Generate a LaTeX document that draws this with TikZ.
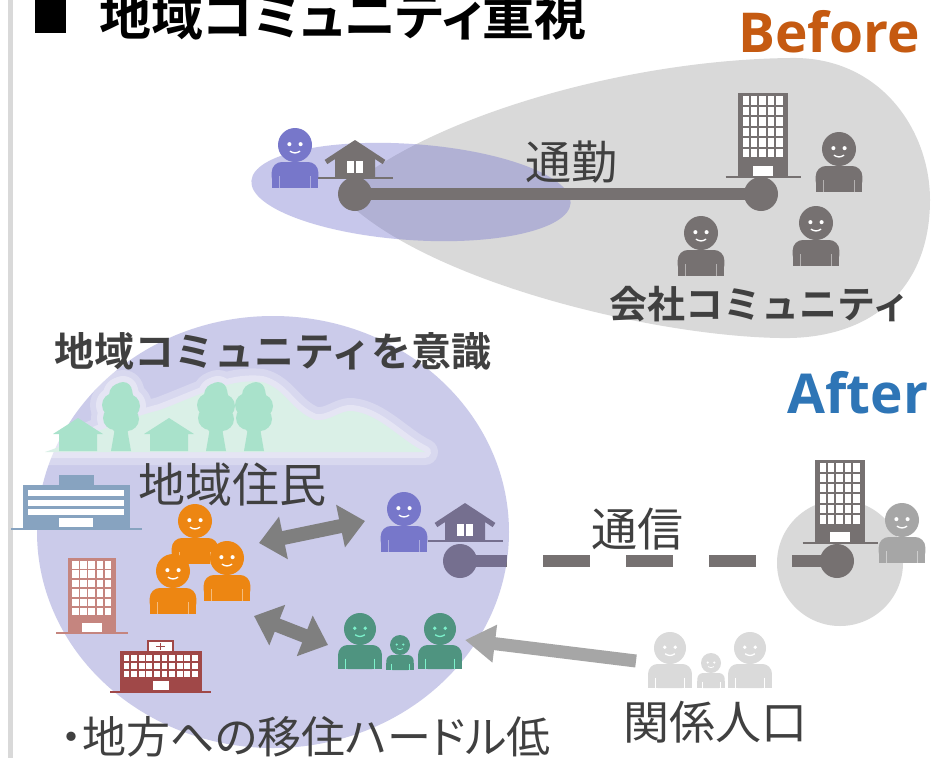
\documentclass[tikz,border=0pt]{standalone}
\usepackage{fontspec}
\usetikzlibrary{arrows.meta}
\newfontfamily\jp[BoldFont={Noto Sans CJK JP Bold}]{Noto Sans CJK JP}
\newfontfamily\jpp[BoldFont={Noto Sans CJK JP Bold},RawFeature=+palt]{Noto Sans CJK JP}
\newfontfamily\en{Open Sans}

\definecolor{inkgray}{HTML}{404040}
\definecolor{hubgray}{HTML}{767171}
\definecolor{hubviolet}{HTML}{756F8F}
\definecolor{blobgray}{HTML}{D9D9D9}
\definecolor{lavender}{HTML}{CBCBEA}
\definecolor{lavdeep}{HTML}{7575CD}
\definecolor{violet}{HTML}{7777CA}
\definecolor{orangeppl}{HTML}{ED8612}
\definecolor{greenppl}{HTML}{4F9480}
\definecolor{mint}{HTML}{7DF2CC}
\definecolor{kingray}{HTML}{DADADA}
\definecolor{arrowgray}{HTML}{7F7F7F}
\definecolor{linkgray}{HTML}{A6A6A6}
\definecolor{hillmint}{HTML}{DAF0E7}
\definecolor{treemint}{HTML}{A9E2CB}
\definecolor{officeblue}{HTML}{87A3C0}
\definecolor{towerpink}{HTML}{C5857F}
\definecolor{clinicred}{HTML}{A04848}
\definecolor{beforeorange}{HTML}{C55A11}
\definecolor{afterblue}{HTML}{2E75B6}

% person icon: head x, head y, head radius, body, face, arm lines
\newcommand{\resident}[6]{%
  \fill[#4] (#1,#2) circle ({#3*1pt});
  \fill[#4,rounded corners={0.6*#3pt}] ({#1-1.37*#3},{#2+#3}) rectangle ({#1+1.37*#3},{#2+2.5*#3});
  \fill[#4] ({#1-1.37*#3},{#2+1.8*#3}) rectangle ({#1+1.37*#3},{#2+2.5*#3});
  \fill[#5] ({#1-0.33*#3},{#2-0.05*#3}) circle ({0.12*#3*1pt});
  \fill[#5] ({#1+0.33*#3},{#2-0.05*#3}) circle ({0.12*#3*1pt});
  \draw[#5,line width={0.08*#3*1pt}] ({#1-0.3*#3},{#2+0.36*#3}) .. controls ({#1-0.1*#3},{#2+0.5*#3}) and ({#1+0.1*#3},{#2+0.5*#3}) .. ({#1+0.3*#3},{#2+0.36*#3});
  \draw[#6,line width=0.8pt] ({#1-0.9*#3},{#2+1.85*#3}) -- ({#1-0.9*#3},{#2+2.5*#3});
  \draw[#6,line width=0.8pt] ({#1+0.9*#3},{#2+1.85*#3}) -- ({#1+0.9*#3},{#2+2.5*#3});
}
% small house: roof peak x, y, colour
\newcommand{\home}[3]{%
  \fill[#3] ({#1-20},{#2+38}) -- ({#1-20},{#2+16}) -- (#1,{#2+3}) -- ({#1+20},{#2+16}) -- ({#1+20},{#2+38}) -- cycle;
  \draw[#3,line width=5pt] ({#1-29},{#2+22}) -- (#1,{#2+3}) -- ({#1+29},{#2+22});
  \fill[white] ({#1-8},{#2+21}) rectangle ({#1+8},{#2+33});
  \draw[#3,line width=1.5pt] (#1,{#2+21}) -- (#1,{#2+33});
  \draw[#3,line width=2pt] ({#1-37},{#2+38}) -- ({#1+38},{#2+38});
}
% office tower: left, top, width, height, colour
\newcommand{\tower}[5]{%
  \fill[#5] (#1,#2) rectangle ++(#3,#4);
  \foreach \c in {0,...,4}{\foreach \r in {0,...,5}{
    \fill[white] ({#1+0.09*#3+\c*0.168*#3},{#2+0.04*#4+\r*0.125*#4}) rectangle ++({0.13*#3},{0.1*#4});}}
  \fill[white] ({#1+0.3*#3},{#2+0.87*#4}) rectangle ++({0.4*#3},{0.12*#4});
  \draw[#5,line width=2pt] ({#1-0.25*#3},{#2+#4}) -- ({#1+1.25*#3},{#2+#4});
}
% crown of a tree on the hill, grown by #2
\newcommand{\crown}[2]{%
  \foreach \dx/\dy/\rr in {0/395/12,-7/405/12,7/406/12,-6/418/12,6/419/12,0/424/10,2/391/9}
    \fill ({#1+\dx},\dy) circle ({(\rr+#2)*1pt});
}
% tree on the hill: trunk x
\newcommand{\tree}[1]{%
  \fill[treemint] ({#1-6},428) -- ({#1+6},428) -- ({#1+10},451) -- ({#1-10},451) -- cycle;
  \begin{scope}[treemint]\crown{#1}{0}\end{scope}
}
% outline of the hill
\newcommand{\hill}{(45,452)
    .. controls (80,440) and (120,420) .. (160,410)
    .. controls (200,395) and (230,378) .. (262,382)
    .. controls (285,388) and (290,410) .. (315,420)
    .. controls (330,422) and (340,410) .. (352,411)
    .. controls (380,414) and (400,440) .. (425,452) -- cycle}

\begin{document}
\begin{tikzpicture}[x=1pt,y=-1pt,
  hub/.style={circle,fill=hubgray,minimum size=34pt,inner sep=0pt},
  jptext/.style={inner sep=0pt,text=inkgray,font=\jp\fontsize{46}{50}\selectfont},
  jpbold/.style={inner sep=0pt,text=inkgray,font=\jp\bfseries\fontsize{#1}{#1}\selectfont},
  twoway/.style={draw=arrowgray,line width=14pt,arrows={Triangle[width=42pt,length=25pt]-Triangle[width=42pt,length=25pt]}},
  oneway/.style={draw=linkgray,line width=13pt,arrows={-Triangle[width=36pt,length=30pt]}}]
\useasboundingbox (0,0) rectangle (932,758);
\fill[white] (0,0) rectangle (932,758);
\draw[blobgray,line width=4.5pt] (10.5,0) -- (10.5,758);

% heading
\fill (35,0) rectangle (66,33);
\node[inner sep=0pt,font=\jpp\bfseries\fontsize{52}{52}\selectfont,anchor=west] (title) at (99,16) {地域コミュニティ重視};
\node[inner sep=0pt,text=beforeorange,font=\en\bfseries\fontsize{55}{55}\selectfont] (before) at (829,32) {Before};

% before: commuting to the company
\fill[blobgray] (340,195) .. controls (420,120) and (620,60) .. (790,58)
  .. controls (880,56) and (930,130) .. (930,200)
  .. controls (930,290) and (870,340) .. (780,338)
  .. controls (650,336) and (420,280) .. (340,195) -- cycle;
\fill[lavdeep,opacity=.4,rotate around={-4:(411,192)}] (411,192) ellipse (160pt and 48pt);

\node[hub] (homeA) at (355,194) {};
\node[hub] (workA) at (761,194) {};
\draw[hubgray,line width=12pt] (homeA.center) -- (workA.center);
\home{355}{140}{hubgray}
\tower{738}{93}{50}{84}{hubgray}
\resident{295}{145}{17}{violet}{white}{violet!60}
\resident{839}{149}{17}{hubgray}{white}{hubgray!55}
\resident{816}{223}{17}{hubgray}{white}{hubgray!55}
\resident{701}{233}{17}{hubgray}{white}{hubgray!55}
\node[jptext] (commute) at (571,162) {通勤};
\node[jpbold=38] (corpcomm) at (760,304) {会社コミュニティ};

% after: the local community
\fill[lavender] (273,532) ellipse (236pt and 216pt);
\node[jpbold=40] (localcomm) at (273,351) {地域コミュニティを意識};

% soft halo round the hill and the trees
\begin{scope}[transparency group,opacity=.25]
  \draw[white,line width=26pt,line join=round] \hill;
  \begin{scope}[white]\foreach \tx in {121,216,254}{\crown{\tx}{12}}\end{scope}
\end{scope}
\begin{scope}[transparency group,opacity=.35]
  \draw[white,line width=12pt,line join=round] \hill;
  \begin{scope}[white]\foreach \tx in {121,216,254}{\crown{\tx}{6}}\end{scope}
\end{scope}
\fill[hillmint] \hill;
\foreach \hx in {78,169}
  \fill[treemint] ({\hx-25},434) -- (\hx,418) -- ({\hx+25},434) -- ({\hx+19},434)
    -- ({\hx+19},451) -- ({\hx-19},451) -- ({\hx-19},434) -- cycle;
\tree{121}
\tree{216}
\tree{254}

\node[jptext,font=\jp\fontsize{47}{50}\selectfont] (locals) at (232,485) {地域住民};

% public buildings
\fill[officeblue] (59,475) rectangle (94,486);
\fill[officeblue] (23,485) rectangle (130,529);
\foreach \yy in {490,499.5,509}
  \fill[white] (28,\yy) rectangle (124,{\yy+6});
\fill[white] (59,518) rectangle (93,527);
\draw[officeblue,line width=1.5pt] (11,529) -- (142,529);

\tower{68}{558}{48}{75}{towerpink}

\fill[clinicred] (120,651) rectangle (202,691);
\filldraw[fill=white,draw=clinicred,line width=1.5pt] (148,641) rectangle (173,652);
\draw[clinicred,line width=1.5pt] (160.5,643) -- (160.5,650) (156,646.5) -- (165,646.5);
\foreach \c in {0,...,9}{\foreach \r in {0,1,2}{
  \fill[white] ({123.5+\c*7.6},{654.5+\r*8}) rectangle ++(5.8,6);}}
\fill[white] (153,681) rectangle (169,690);
\draw[clinicred,line width=1.5pt] (110,692) -- (211,692);

% residents
\resident{195}{521}{17}{orangeppl}{white}{orangeppl!55}
\resident{227}{558}{17}{orangeppl}{white}{orangeppl!55}
\resident{173}{571}{17}{orangeppl}{white}{orangeppl!55}

\resident{360}{629}{16}{greenppl}{mint}{mint}
\resident{400}{645}{10}{greenppl}{mint}{mint}
\resident{440}{629}{16}{greenppl}{mint}{mint}

% teleworker at home
\node[hub,fill=hubviolet] (homeB) at (460,561) {};
\home{465}{503}{hubviolet}
\resident{404}{509}{17}{violet}{white}{violet!60}

% company far away
\fill[blobgray] (840,563) circle (63pt);
\tower{815}{460}{50}{83}{hubgray}
\node[hub] (workB) at (837,561) {};
\draw[hubgray,line width=12pt,dash pattern=on 47pt off 36pt] (homeB.center) -- (workB.center);
\begin{scope}
  \clip (273,532) ellipse (236pt and 216pt);
  \draw[hubviolet,line width=12pt,dash pattern=on 47pt off 36pt] (homeB.center) -- (workB.center);
\end{scope}
\resident{902}{520}{17}{linkgray}{white}{linkgray!55}
\node[inner sep=0pt,text=afterblue,font=\en\bfseries\fontsize{55}{55}\selectfont] (after) at (858,393) {After};
\node[jptext] (telecom) at (637,529) {通信};

% related population
\resident{670}{648}{16}{kingray}{white}{white}
\resident{711}{663}{10}{kingray}{white}{white}
\resident{750}{648}{16}{kingray}{white}{white}

\coordinate (talkL) at (259,543);
\coordinate (talkR) at (365,521);
\coordinate (mixL) at (254,616);
\coordinate (mixR) at (328,645);
\coordinate (kinTail) at (636,661);
\coordinate (kinTip) at (465,640);
\draw[twoway] (talkL) -- (talkR);
\draw[twoway] (mixL) -- (mixR);
\draw[oneway] (kinTail) -- (kinTip);

\node[jptext] (kinpop) at (715,722) {関係人口};
\node[jptext,font=\jpp\fontsize{44}{50}\selectfont,anchor=west] (hurdle) at (60,737) {・地方への移住ハードル低};
\end{tikzpicture}
\end{document}
